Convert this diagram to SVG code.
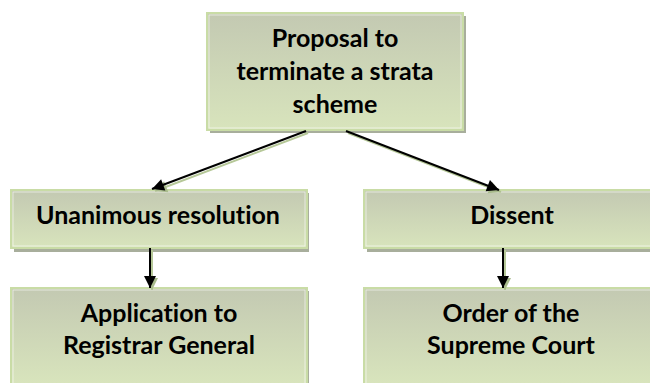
<svg xmlns="http://www.w3.org/2000/svg" width="650" height="383" viewBox="0 0 650 383">
  <defs>
    <linearGradient id="boxFill" x1="0" y1="0" x2="0" y2="1">
      <stop offset="0" stop-color="#c3c9b2"/>
      <stop offset="1" stop-color="#d8e4bc"/>
    </linearGradient>
    <linearGradient id="tallFill" gradientUnits="userSpaceOnUse" x1="0" y1="288" x2="0" y2="383">
      <stop offset="0" stop-color="#c3c9b2"/>
      <stop offset="1" stop-color="#d8e4bc"/>
    </linearGradient>
    <marker id="arrow" viewBox="0 0 10 10" refX="10" refY="5" markerWidth="12" markerHeight="12" markerUnits="userSpaceOnUse" orient="auto" overflow="visible">
      <path d="M0,0 L10,5 L0,10 Z" fill="#000"/>
    </marker>
    <marker id="arrowShadow" viewBox="0 0 10 10" refX="10" refY="5" markerWidth="12" markerHeight="12" markerUnits="userSpaceOnUse" orient="auto" overflow="visible">
      <path d="M0,0 L10,5 L0,10 Z" fill="#a9bb8c"/>
    </marker>
  </defs>
  <style>
    .shadow { fill: #a8ae9c; }
    .box { stroke: #c9dca6; stroke-width: 2; }
    .inner { fill: none; stroke: #ffffff; stroke-width: 0.8; opacity: 0.7; }
    .label { font-family: Lato, "Liberation Sans", sans-serif; font-weight: bold; font-size: 25px; fill: #000; text-anchor: middle; font-variant-ligatures: none; }
    .conn { stroke: #000; stroke-width: 2; fill: none; }
    .connShadow { stroke: #b6c898; stroke-width: 2; fill: none; }
  </style>

  <g id="node-proposal">
    <rect class="shadow" x="210" y="16" width="256" height="117"/>
    <rect class="box" x="207" y="13" width="256" height="117" fill="url(#boxFill)"/>
    <rect class="inner" x="209" y="15" width="252" height="113"/>
    <text class="label" x="335" y="47">Proposal to</text>
    <text class="label" x="335" y="80">terminate a strata</text>
    <text class="label" x="335" y="113">scheme</text>
  </g>

  <g id="node-unanimous">
    <rect class="shadow" x="14" y="193" width="295" height="59"/>
    <rect class="box" x="11" y="190" width="296" height="58" fill="url(#boxFill)"/>
    <rect class="inner" x="13" y="192" width="292" height="54"/>
    <text class="label" x="158" y="224">Unanimous resolution</text>
  </g>

  <g id="node-dissent">
    <rect class="shadow" x="367" y="193" width="296" height="59"/>
    <rect class="box" x="364" y="190" width="296" height="58" fill="url(#boxFill)"/>
    <rect class="inner" x="366" y="192" width="292" height="54"/>
    <text class="label" x="512" y="224">Dissent</text>
  </g>

  <g id="node-application">
    <rect class="shadow" x="14" y="291" width="295" height="100"/>
    <rect class="box" x="11" y="288" width="296" height="100" fill="url(#tallFill)"/>
    <rect class="inner" x="13" y="290" width="292" height="96"/>
    <text class="label" x="159" y="322">Application to</text>
    <text class="label" x="159" y="354">Registrar General</text>
  </g>

  <g id="node-order">
    <rect class="shadow" x="367" y="291" width="296" height="100"/>
    <rect class="box" x="364" y="288" width="296" height="100" fill="url(#tallFill)"/>
    <rect class="inner" x="366" y="290" width="292" height="96"/>
    <text class="label" x="511" y="322">Order of the</text>
    <text class="label" x="511" y="354">Supreme Court</text>
  </g>

  <g id="connectors">
    <line class="connShadow" x1="308" y1="133" x2="155" y2="191" marker-end="url(#arrowShadow)"/>
    <line class="connShadow" x1="348" y1="133" x2="501" y2="192" marker-end="url(#arrowShadow)"/>
    <line class="connShadow" x1="152" y1="250" x2="152" y2="290" marker-end="url(#arrowShadow)"/>
    <line class="connShadow" x1="505" y1="250" x2="505" y2="290" marker-end="url(#arrowShadow)"/>
    <line class="conn" x1="306" y1="131" x2="152" y2="189" marker-end="url(#arrow)"/>
    <line class="conn" x1="346" y1="131" x2="499" y2="190" marker-end="url(#arrow)"/>
    <line class="conn" x1="150" y1="248" x2="150" y2="288" marker-end="url(#arrow)"/>
    <line class="conn" x1="503" y1="248" x2="503" y2="288" marker-end="url(#arrow)"/>
  </g>
</svg>
